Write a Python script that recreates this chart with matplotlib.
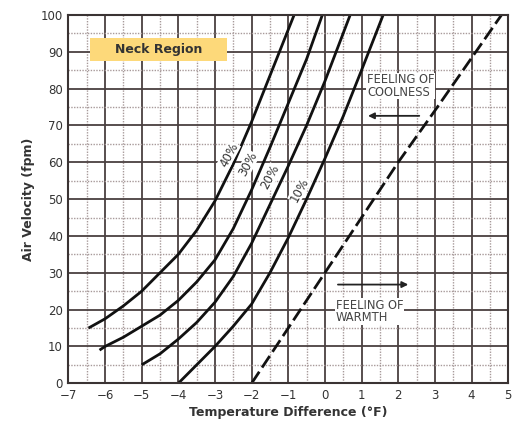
import numpy as np
import matplotlib.pyplot as plt
from matplotlib.ticker import MultipleLocator
from matplotlib.patches import Rectangle

# Curves of constant percent dissatisfied
x40 = [-6.45, -6.0, -5.5, -5.0, -4.5, -4.0, -3.5, -3.0, -2.5, -2.0, -1.5, -1.0, -0.84]
y40 = [15, 17.5, 21, 25, 30, 35, 41.5, 49.5, 59.5, 71, 83.5, 96, 100]

x30 = [-6.15, -6.0, -5.5, -5.0, -4.5, -4.0, -3.5, -3.0, -2.5, -2.0, -1.5, -1.0, -0.5, -0.07]
y30 = [9, 10, 12.5, 15.5, 18.5, 22.5, 27.5, 33.5, 42, 52.5, 64, 76, 88, 100]

x20 = [-5.0, -4.5, -4.0, -3.5, -3.0, -2.5, -2.0, -1.5, -1.0, -0.5, 0.0, 0.69]
y20 = [5, 8, 12, 16.5, 22, 29, 38, 48.5, 59, 70, 82, 100]

x10 = [-4.0, -3.5, -3.0, -2.5, -2.0, -1.5, -1.0, -0.5, 0.0, 0.5, 1.0, 1.59]
y10 = [0, 5, 10, 15.5, 21.5, 30, 39.5, 50, 61, 72.5, 85, 100]

# neutral line (dashed)
x_neutral = [-2.0, 0.0, 2.0, 3.0, 4.82]
y_neutral = [0, 30, 60, 74, 100]

curves = [(x40, y40, '40%', (-2.62, 62)),
          (x30, y30, '30%', (-2.1, 59.5)),
          (x20, y20, '20%', (-1.5, 56)),
          (x10, y10, '10%', (-0.7, 52.5))]

fig = plt.figure(figsize=(5.18, 4.22), dpi=100)
ax = fig.add_axes([0.132, 0.0917, 0.849, 0.873])

ax.set_xlim(-7, 5)
ax.set_ylim(0, 100)
ax.xaxis.set_major_locator(MultipleLocator(1))
ax.yaxis.set_major_locator(MultipleLocator(10))
ax.xaxis.set_minor_locator(MultipleLocator(0.5))
ax.yaxis.set_minor_locator(MultipleLocator(5))
ax.grid(which='major', color='#4a4040', linewidth=1.3)
ax.grid(which='minor', color='#a89a9a', linewidth=1.0, linestyle=(0, (1, 1)))
ax.set_axisbelow(True)
ax.tick_params(which='both', length=0, labelsize=8.5, colors='#333333', pad=4)
for s in ax.spines.values():
    s.set_color('#3a3333')
    s.set_linewidth(1.5)

for xs, ys, lab, pos in curves:
    ax.plot(xs, ys, color='#111111', linewidth=2.0, solid_capstyle='butt')
    ax.text(pos[0], pos[1], lab, rotation=62, fontsize=8.5, color='#333333',
            ha='center', va='center',
            bbox=dict(facecolor='white', edgecolor='none', pad=0.2))

ax.plot(x_neutral, y_neutral, color='#111111', linewidth=2.0,
        linestyle=(0, (5, 1.8)), dash_capstyle='butt')

# label box
ax.add_patch(Rectangle((-6.41, 87.5), 3.74, 6.2, facecolor='#fdd97a',
                       edgecolor='none', zorder=3))
ax.text(-4.54, 90.6, 'Neck Region', fontsize=9, fontweight='bold',
        color='#333333', ha='center', va='center', zorder=4)

ax.text(1.15, 80.7, 'FEELING OF\nCOOLNESS', fontsize=8.3, color='#444444',
        ha='left', va='center', linespacing=0.95,
        bbox=dict(facecolor='white', edgecolor='none', pad=0.5))
ax.annotate('', xy=(1.1, 72.6), xytext=(2.65, 72.6),
            arrowprops=dict(arrowstyle='-|>', color='#222222', lw=1.3,
                            mutation_scale=9))

ax.text(0.3, 19.5, 'FEELING OF\nWARMTH', fontsize=8.3, color='#444444',
        ha='left', va='center', linespacing=0.95,
        bbox=dict(facecolor='white', edgecolor='none', pad=0.5))
ax.annotate('', xy=(2.35, 26.8), xytext=(0.28, 26.8),
            arrowprops=dict(arrowstyle='-|>', color='#222222', lw=1.3,
                            mutation_scale=9))

ax.set_xlabel('Temperature Difference (°F)', fontsize=9, fontweight='bold',
              color='#333333', labelpad=3)
ax.set_ylabel('Air Velocity (fpm)', fontsize=9, fontweight='bold',
              color='#333333', labelpad=4)

fig.savefig('out.png', dpi=100)
